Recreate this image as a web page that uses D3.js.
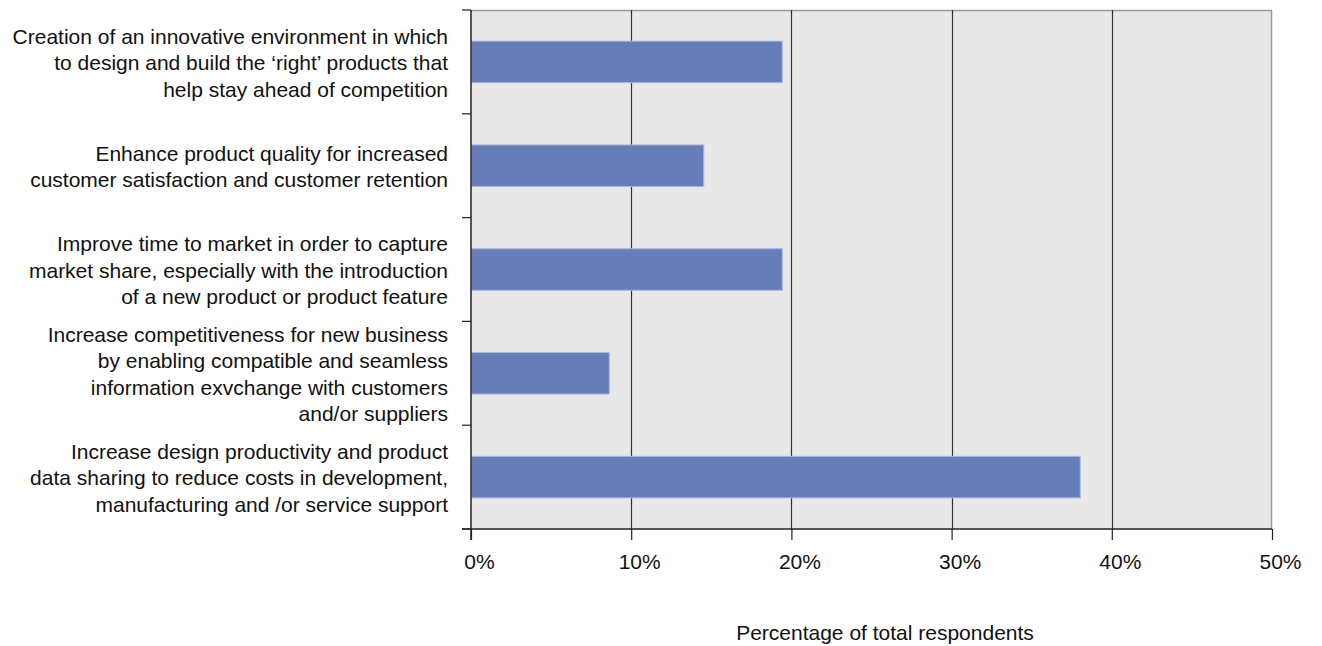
<!DOCTYPE html>
<html>
<head>
<meta charset="utf-8">
<script src="https://cdn.jsdelivr.net/npm/d3@7"></script>
<style>
  html, body { margin: 0; padding: 0; background: #fff; }
  svg { display: block; }
  text { font-family: "Liberation Sans", Arial, Helvetica, sans-serif; fill: #111; }
</style>
</head>
<body>
<svg id="chart" width="1322" height="646"></svg>
<script>
const categories = [
  ["Creation of an innovative environment in which", "to design and build the \u2018right\u2019 products that", "help stay ahead of competition"],
  ["Enhance product quality for increased", "customer satisfaction and customer retention"],
  ["Improve time to market in order to capture", "market share, especially with the introduction", "of a new product or product feature"],
  ["Increase competitiveness for new business", "by enabling compatible and seamless", "information exvchange with customers", "and/or suppliers"],
  ["Increase design productivity and product", "data sharing to reduce costs in development,", "manufacturing and /or service support"]
];
const values = [19.4, 14.5, 19.4, 8.6, 38.0];
const xTicks = [0, 10, 20, 30, 40, 50];
const xTickLabels = ["0%", "10%", "20%", "30%", "40%", "50%"];
const xTitle = "Percentage of total respondents";

const svg = d3.select("#chart");
const pL = 471, pR = 1272, pT = 10, pB = 529;
const fs = 21;

const x = d3.scaleLinear().domain([0, 50]).range([pL, pR]);
const y = d3.scaleBand().domain(d3.range(categories.length)).range([pT, pB]).paddingInner(0.6).paddingOuter(0.3);

// background
svg.append("rect").attr("x", pL).attr("y", pT).attr("width", pR - pL).attr("height", pB - pT).attr("fill", "#e8e8e8");

// top & right border
svg.append("line").attr("x1", pL).attr("x2", pR).attr("y1", pT + 0.5).attr("y2", pT + 0.5).attr("stroke", "#9a9a9a").attr("stroke-width", 1.5);
svg.append("line").attr("x1", pR - 0.5).attr("x2", pR - 0.5).attr("y1", pT).attr("y2", pB).attr("stroke", "#9a9a9a").attr("stroke-width", 1.5);

// gridlines
svg.append("g").selectAll("line").data(xTicks.slice(1, -1)).join("line")
  .attr("x1", d => Math.round(x(d)) + 0.5).attr("x2", d => Math.round(x(d)) + 0.5)
  .attr("y1", pT).attr("y2", pB).attr("stroke", "#333").attr("stroke-width", 1.2);

// bars
svg.append("g").selectAll("rect").data(values).join("rect")
  .attr("x", pL + 0.5).attr("y", (d, i) => y(i))
  .attr("width", d => x(d) - pL).attr("height", y.bandwidth())
  .attr("fill", "#677db9").attr("stroke", "#aab7dd").attr("stroke-width", 1);

// x axis
const xAxis = d3.axisBottom(x).tickValues(xTicks).tickFormat((d, i) => xTickLabels[i]).tickSize(11).tickPadding(14);
const gx = svg.append("g").attr("transform", `translate(0,${pB})`).call(xAxis);
gx.select(".domain").attr("stroke", "#222").attr("stroke-width", 1.5).attr("d", `M${pL - 9},0H${pR}`);
gx.selectAll(".tick line").attr("stroke", "#222").attr("stroke-width", 1.2);
gx.selectAll(".tick text").attr("font-size", fs).attr("dx", 8).style("fill", "#111")
  .attr("font-family", "'Liberation Sans', Arial, sans-serif");

// y axis line and boundary ticks
const boundaries = d3.range(categories.length + 1).map(i => pT + i * (pB - pT) / categories.length);
svg.append("line").attr("x1", pL).attr("x2", pL).attr("y1", pT).attr("y2", pB + 11).attr("stroke", "#222").attr("stroke-width", 1.5);
svg.append("g").selectAll("line").data(boundaries).join("line")
  .attr("x1", pL - 9).attr("x2", pL).attr("y1", d => d).attr("y2", d => d)
  .attr("stroke", "#222").attr("stroke-width", 1.2);

// category labels
const lineH = 26.5;
const lab = svg.append("g").selectAll("text").data(categories).join("text")
  .attr("text-anchor", "end").attr("font-size", fs)
  .attr("transform", (d, i) => `translate(448,${y(i) + y.bandwidth() / 2 + 1})`);
lab.selectAll("tspan").data(d => d.map((t, j) => ({t, j, n: d.length}))).join("tspan")
  .attr("x", 0).attr("y", d => (d.j - (d.n - 1) / 2) * lineH).attr("dy", "0.35em").text(d => d.t);

// x title
svg.append("text").attr("x", 885).attr("y", 633).attr("dy", "0.35em").attr("text-anchor", "middle")
  .attr("font-size", fs).text(xTitle);
</script>
</body>
</html>
